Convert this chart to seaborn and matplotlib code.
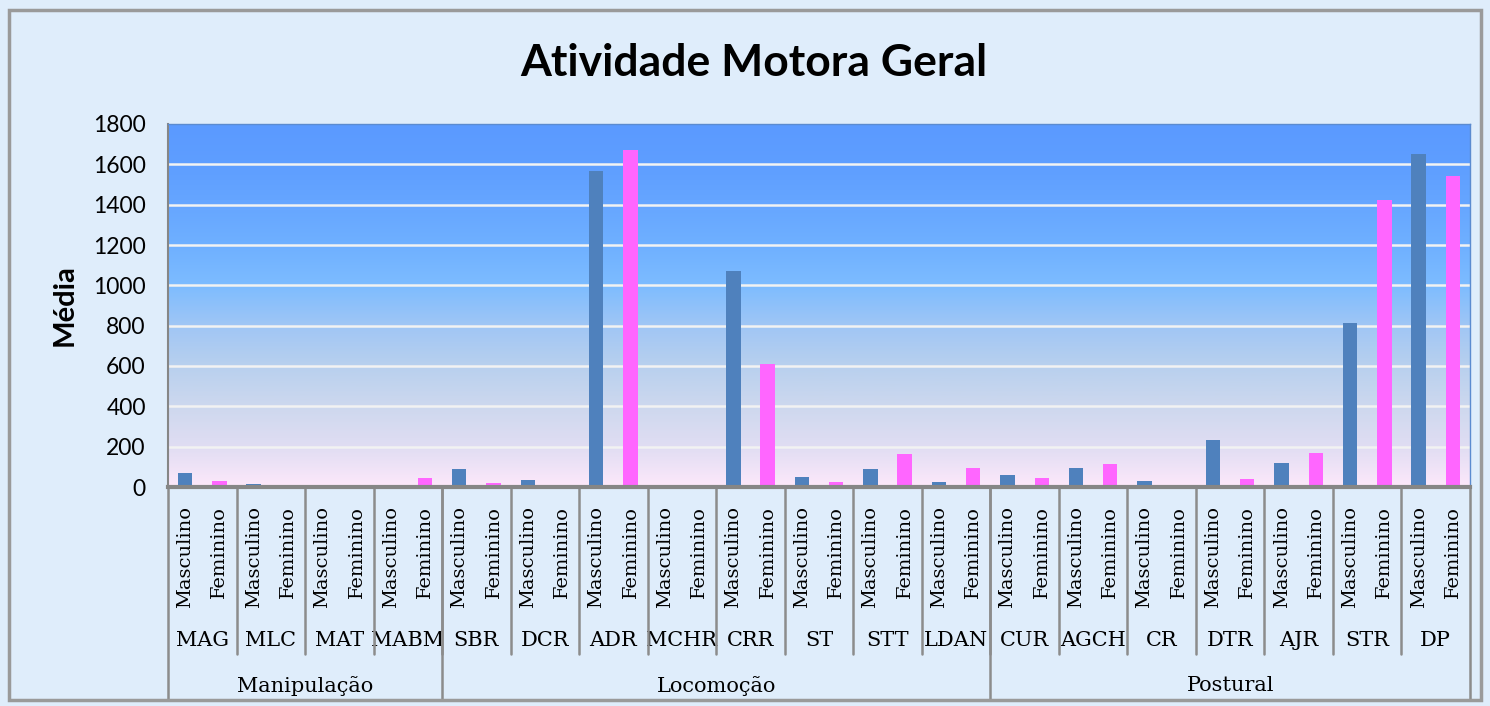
import numpy as np
import pandas as pd
import matplotlib
matplotlib.use("Agg")
import matplotlib.pyplot as plt
from matplotlib.colors import LinearSegmentedColormap
from matplotlib.patches import Rectangle
import seaborn as sns

# dados
grupos = ["Manipulação", "Locomoção", "Postural"]
testes_por_grupo = [
    ["MAG", "MLC", "MAT", "MABM"],
    ["SBR", "DCR", "ADR", "MCHR", "CRR", "ST", "STT", "LDAN"],
    ["CUR", "AGCH", "CR", "DTR", "AJR", "STR", "DP"],
]
masculino = [68, 15, 0, 0,
             89, 35, 1567, 0, 1070, 48, 89, 25,
             61, 93, 30, 233, 117, 812, 1650]
feminino = [30, 0, 0, 43,
            18, 8, 1670, 0, 610, 25, 162, 93,
            46, 114, 0, 41, 170, 1422, 1541]
sexos = ["Masculino", "Feminino"]
yticks = [0, 200, 400, 600, 800, 1000, 1200, 1400, 1600, 1800]

testes = [t for g in testes_por_grupo for t in g]
linhas = []
for i, t in enumerate(testes):
    linhas.append({"chave": f"{t}-M", "teste": t, "sexo": "Masculino", "media": masculino[i]})
    linhas.append({"chave": f"{t}-F", "teste": t, "sexo": "Feminino", "media": feminino[i]})
df = pd.DataFrame(linhas)

sns.set_style("white")
plt.rcParams["font.family"] = ["DejaVu Sans"]
plt.rcParams["text.color"] = "black"
plt.rcParams["axes.labelcolor"] = "black"
plt.rcParams["xtick.color"] = "black"
plt.rcParams["ytick.color"] = "black"

bg = "#DFEDFB"
fig = plt.figure(figsize=(14.9, 7.06), dpi=100, facecolor=bg)
ax = fig.add_axes([168 / 1490, 1 - 487 / 706, (1470 - 168) / 1490, (487 - 124) / 706])

# moldura externa
fig.patches.append(Rectangle((9 / 1490, 6 / 706), 1472 / 1490, 690 / 706, transform=fig.transFigure,
                             facecolor="none", edgecolor="#9A9A9A", linewidth=2.5, zorder=0))

# fundo em degradê
cores = ["#FDE8FA", "#E0DDF3", "#CDD8EE", "#B8D0EE", "#A0C6F5", "#7DBCFF", "#6FB0FF", "#66A6FF", "#5E9EFF", "#5B9AFF"]
cmap = LinearSegmentedColormap.from_list("fundo", cores)
grad = np.linspace(0, 1, 256).reshape(-1, 1)
n = len(df)
ax.imshow(grad, cmap=cmap, aspect="auto", origin="lower",
          extent=[-0.5, n - 0.5, 0, 1800], zorder=0)

sns.barplot(data=df, x="chave", y="media", hue="sexo", order=df["chave"],
            hue_order=sexos, palette={"Masculino": "#4F81BD", "Feminino": "#FF66FF"},
            dodge=False, width=0.42, saturation=1, legend=False, ax=ax, zorder=3,
            edgecolor="none")

ax.set_xlim(-0.5, n - 0.5)
ax.set_ylim(0, 1800)
ax.set_yticks(yticks)
ax.set_yticklabels([str(v) for v in yticks], fontsize=16.5, family="Lato")
for v in yticks[1:-1]:
    ax.axhline(v, color="#F2F2F2", linewidth=1.8, zorder=1)

ax.set_xticks(range(n))
ax.set_xticklabels(df["sexo"], rotation=90, fontsize=14, family="DejaVu Serif", va="top")
ax.tick_params(axis="x", length=0, pad=14)
ax.tick_params(axis="y", length=8, width=1.5, color="#868686", direction="out", pad=8, labelcolor="black")
ax.set_xlabel("")
ax.set_ylabel("Média", fontsize=21, fontweight="bold", family="Lato", labelpad=11, color="black")

for s in ["top", "right"]:
    ax.spines[s].set_color("#5B8BD0")
    ax.spines[s].set_linewidth(1)
ax.spines["left"].set_color("#868686")
ax.spines["left"].set_linewidth(1.5)
ax.spines["bottom"].set_color("#868686")
ax.spines["bottom"].set_linewidth(3)
ax.spines["bottom"].set_zorder(5)

trans = ax.get_xaxis_transform()
# nomes dos testes e separadores
for i, t in enumerate(testes):
    ax.text(2 * i + 0.5, -0.4215, t, transform=trans, ha="center", va="center",
            fontsize=15, family="DejaVu Serif", clip_on=False, color="black")
for k in range(1, len(testes)):
    ax.plot([2 * k - 0.5] * 2, [0, -0.46], transform=trans, color="#8C8C8C",
            linewidth=1.8, clip_on=False, zorder=4)
# grupos
inicio = 0
bordas = [-0.5]
for g, ts in zip(grupos, testes_por_grupo):
    fim = inicio + 2 * len(ts)
    ax.text((inicio + fim - 1) / 2, -0.548, g, transform=trans, ha="center", va="center",
            fontsize=15, family="DejaVu Serif", clip_on=False, color="black")
    bordas.append(fim - 0.5)
    inicio = fim
for b in bordas:
    ax.plot([b] * 2, [0, -0.587], transform=trans, color="#8C8C8C",
            linewidth=1.8, clip_on=False, zorder=4)

fig.text(754 / 1490, 1 - 63 / 706, "Atividade Motora Geral", ha="center", va="center",
         fontsize=32, fontweight="bold", family="Lato", color="black")

fig.savefig("out.png", dpi=100, facecolor=bg)
